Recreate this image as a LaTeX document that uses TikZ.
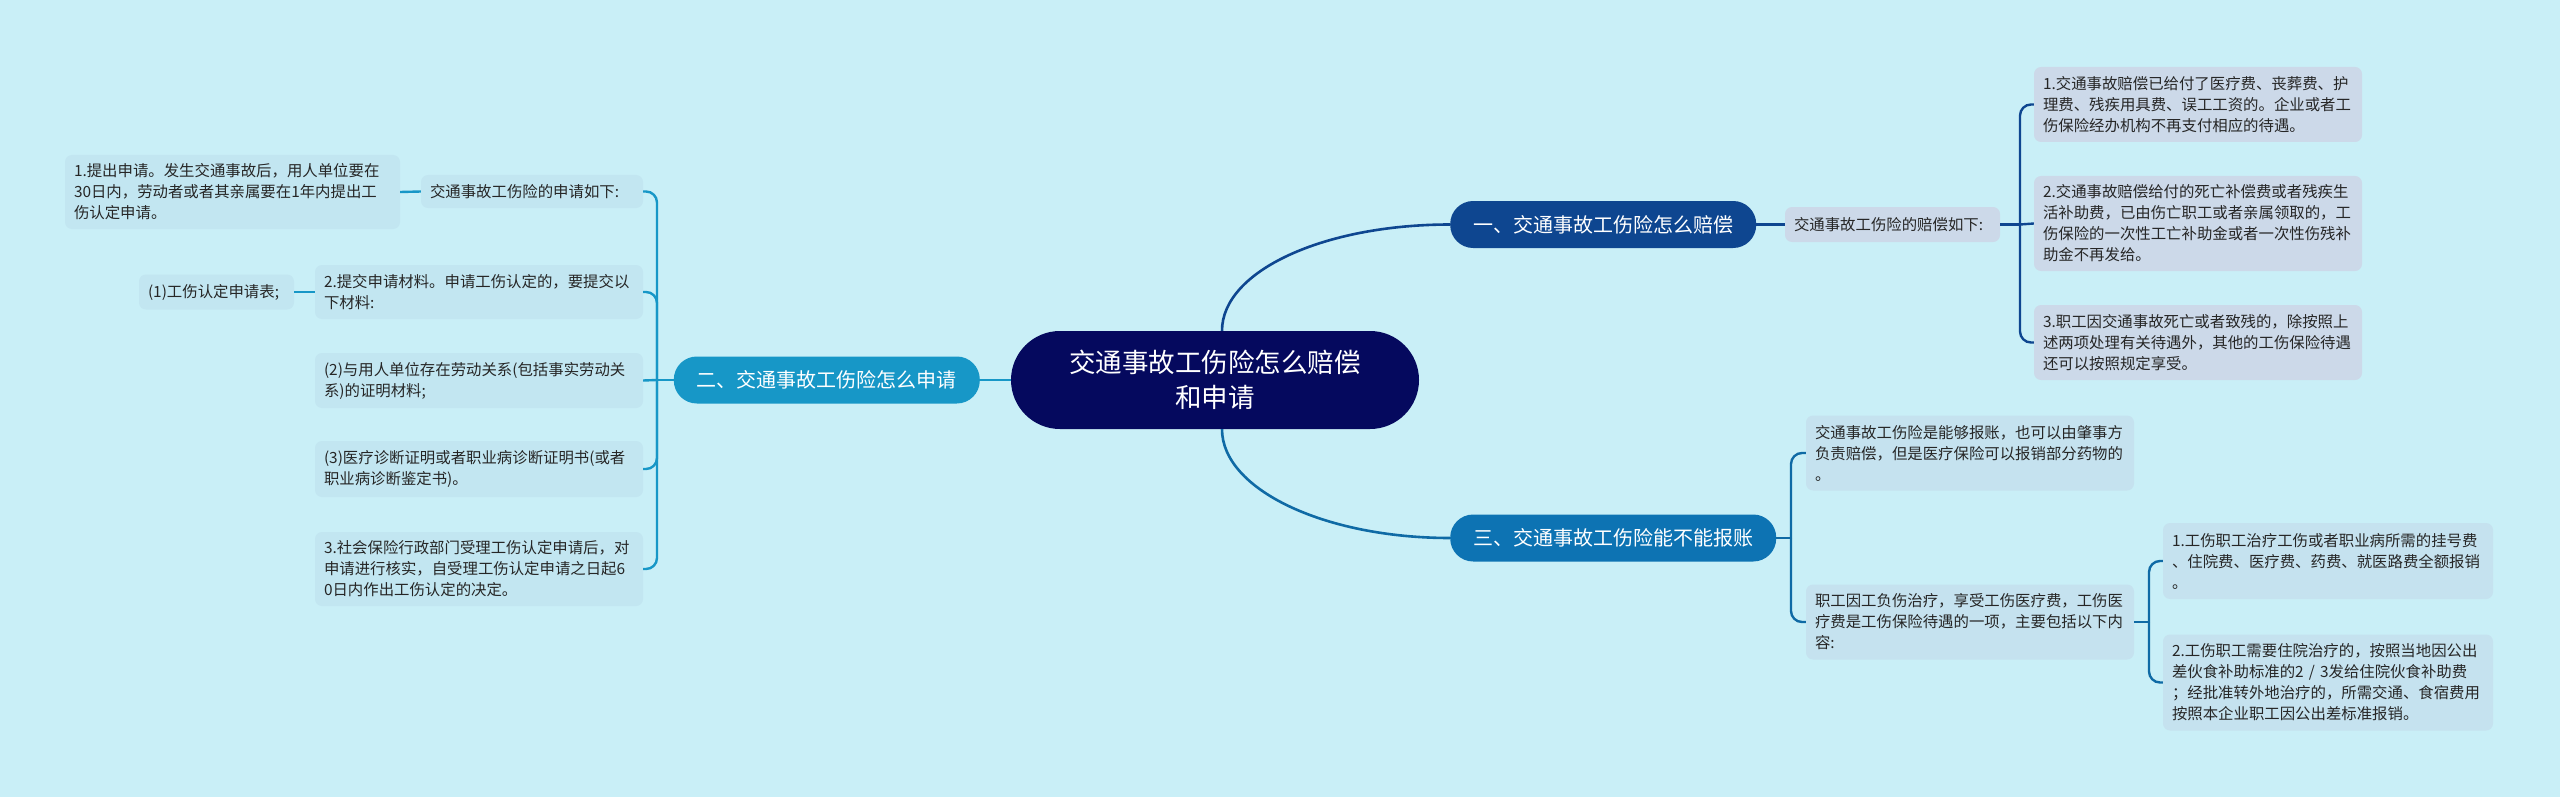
\documentclass[tikz,border=0pt]{standalone}
\usepackage{fontspec}
\setmainfont{Noto Sans CJK SC}
\definecolor{bgc}{HTML}{C9EFF7}
\definecolor{ctrc}{HTML}{05095E}
\definecolor{bonec}{HTML}{0E4690}
\definecolor{btwoc}{HTML}{1797C7}
\definecolor{bthreec}{HTML}{0D73B3}
\definecolor{lthreec}{HTML}{0F6AA5}
\definecolor{leafone}{HTML}{CCD9E9}
\definecolor{leaftwo}{HTML}{C2E6F1}
\definecolor{leafthree}{HTML}{C5E2EF}
\definecolor{txtc}{HTML}{262626}
\tikzset{
  leafbox/.style={rounded corners=7pt, align=left, text=txtc, inner xsep=9pt, inner ysep=0pt,
    font=\fontsize{15.4}{21}\selectfont},
  branchbox/.style={rounded corners=23pt, text=white, inner xsep=23pt, inner ysep=0pt,
    minimum height=47pt, font=\fontsize{20}{24}\selectfont},
  lineone/.style={draw=bonec, line width=2.6pt},
  linetwo/.style={draw=btwoc, line width=2.6pt},
  linethree/.style={draw=lthreec, line width=2.6pt},
  brk/.style={rounded corners=11pt},
}
\begin{document}
\begin{tikzpicture}[x=1pt,y=-1pt]
\fill[bgc] (0,0) rectangle (2560,797);
\useasboundingbox (0,0) rectangle (2560,797);

% center
\node[fill=ctrc, rounded corners=49pt, minimum width=408pt, minimum height=98pt, inner sep=0pt,
  align=center, text=white, font=\fontsize{26.5}{35}\selectfont] (C) at (1215,380)
  {交通事故工伤险怎么赔偿\\和申请};

% branches
\node[branchbox, fill=bonec, anchor=west] (B1) at (1450,224.5) {一、交通事故工伤险怎么赔偿};
\node[branchbox, fill=btwoc, anchor=east] (B2) at (980,380) {二、交通事故工伤险怎么申请};
\node[branchbox, fill=bthreec, anchor=west] (B3) at (1450,538) {三、交通事故工伤险能不能报账};

% branch 1 leaves
\node[leafbox, fill=leafone, text width=197pt, minimum height=35pt] (S1) at (1892.5,224.5)
  {交通事故工伤险的赔偿如下:};
\node[leafbox, fill=leafone, text width=310pt, minimum height=75pt] (R1) at (2198,104.5)
  {1.交通事故赔偿已给付了医疗费、丧葬费、护\\理费、残疾用具费、误工工资的。企业或者工\\伤保险经办机构不再支付相应的待遇。};
\node[leafbox, fill=leafone, text width=310pt, minimum height=95pt] (R2) at (2198,223.5)
  {2.交通事故赔偿给付的死亡补偿费或者残疾生\\活补助费，已由伤亡职工或者亲属领取的，工\\伤保险的一次性工亡补助金或者一次性伤残补\\助金不再发给。};
\node[leafbox, fill=leafone, text width=310pt, minimum height=75pt] (R3) at (2198,342.5)
  {3.职工因交通事故死亡或者致残的，除按照上\\述两项处理有关待遇外，其他的工伤保险待遇\\还可以按照规定享受。};

% branch 2 leaves
\node[leafbox, fill=leaftwo, text width=204pt, minimum height=33pt] (L0) at (532,191.5)
  {交通事故工伤险的申请如下:};
\node[leafbox, fill=leaftwo, text width=317pt, minimum height=74pt] (L0a) at (232.5,192)
  {1.提出申请。发生交通事故后，用人单位要在\\30日内，劳动者或者其亲属要在1年内提出工\\伤认定申请。};
\node[leafbox, fill=leaftwo, text width=310pt, minimum height=54pt] (L1) at (479,292)
  {2.提交申请材料。申请工伤认定的，要提交以\\下材料:};
\node[leafbox, fill=leaftwo, text width=137pt, minimum height=35pt] (L1a) at (216.5,292)
  {(1)工伤认定申请表;};
\node[leafbox, fill=leaftwo, text width=310pt, minimum height=55pt] (L2) at (479,380.5)
  {(2)与用人单位存在劳动关系(包括事实劳动关\\系)的证明材料;};
\node[leafbox, fill=leaftwo, text width=310pt, minimum height=56pt] (L3) at (479,469)
  {(3)医疗诊断证明或者职业病诊断证明书(或者\\职业病诊断鉴定书)。};
\node[leafbox, fill=leaftwo, text width=310pt, minimum height=74pt] (L4) at (479,569)
  {3.社会保险行政部门受理工伤认定申请后，对\\申请进行核实，自受理工伤认定申请之日起6\\0日内作出工伤认定的决定。};

% branch 3 leaves
\node[leafbox, fill=leafthree, text width=310pt, minimum height=75pt] (A) at (1970,453)
  {交通事故工伤险是能够报账，也可以由肇事方\\负责赔偿，但是医疗保险可以报销部分药物的\\。};
\node[leafbox, fill=leafthree, text width=310pt, minimum height=75pt] (Bn) at (1970,622)
  {职工因工负伤治疗，享受工伤医疗费，工伤医\\疗费是工伤保险待遇的一项，主要包括以下内\\容:};
\node[leafbox, fill=leafthree, text width=312pt, minimum height=76pt] (C1) at (2328,561)
  {1.工伤职工治疗工伤或者职业病所需的挂号费\\、住院费、医疗费、药费、就医路费全额报销\\。};
\node[leafbox, fill=leafthree, text width=312pt, minimum height=96pt] (C2) at (2328,682.5)
  {2.工伤职工需要住院治疗的，按照当地因公出\\差伙食补助标准的2 / 3发给住院伙食补助费\\；经批准转外地治疗的，所需交通、食宿费用\\按照本企业职工因公出差标准报销。};

% main connectors
\draw[lineone] ([xshift=7pt]C.north) .. controls +(0,-60) and +(-126,0) .. (B1.west);
\draw[linethree] ([xshift=7pt]C.south) .. controls +(0,60) and +(-126,0) .. (B3.west);
\draw[linetwo] (C.west) -- (B2.east);

% branch 1
\coordinate (J1) at (2020,224.5);
\draw[lineone, line width=2.4pt] (B1.east) -- (S1.west);
\draw[lineone, line width=2.4pt] (S1.east) -- (J1);
\draw[lineone, line width=2.4pt, brk] (J1) |- (R1.west);
\draw[lineone, line width=2.4pt] (J1) -- (R2.west);
\draw[lineone, line width=2.4pt, brk] (J1) |- (R3.west);

% branch 2
\coordinate (J2) at (657,380);
\draw[linetwo, line width=2.4pt] (B2.west) -- (J2);
\draw[linetwo, line width=2.4pt, brk] (J2) |- (L0.east);
\draw[linetwo, line width=2.4pt, brk] (J2) |- (L1.east);
\draw[linetwo, line width=2.4pt] (J2) -- (L2.east);
\draw[linetwo, line width=2.4pt, brk] (J2) |- (L3.east);
\draw[linetwo, line width=2.4pt, brk] (J2) |- (L4.east);
\draw[linetwo, line width=2.4pt] (L0.west) -- (L0a.east);
\draw[linetwo, line width=2.4pt] (L1.west) -- (L1a.east);

% branch 3
\coordinate (J3) at (1791,538);
\draw[linethree, line width=2.4pt] (B3.east) -- (J3);
\draw[linethree, line width=2.4pt, brk] (J3) |- (A.west);
\draw[linethree, line width=2.4pt, brk] (J3) |- (Bn.west);
\coordinate (J4) at (2149,622);
\draw[linethree, line width=2.4pt] (Bn.east) -- (J4);
\draw[linethree, line width=2.4pt, brk] (J4) |- (C1.west);
\draw[linethree, line width=2.4pt, brk] (J4) |- (C2.west);
\end{tikzpicture}
\end{document}
